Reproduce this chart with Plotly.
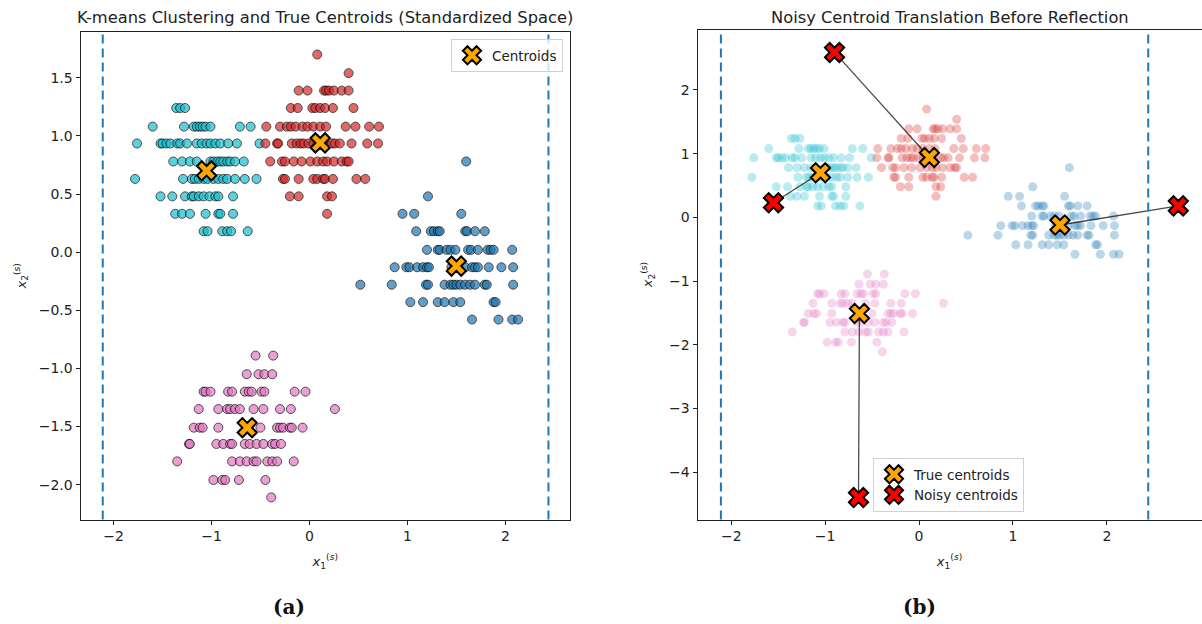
import plotly.graph_objects as go

# ---------------- data (standardized space) ----------------
cyan_rows_y = [1.24, 1.08, 0.935, 0.78, 0.63, 0.48, 0.33, 0.18]
cyan_rows_x = [
    [-1.36, -1.32, -1.27],
    [-1.60, -1.28, -1.18, -1.15, -1.12, -1.09, -1.06, -1.01, -0.71, -0.60],
    [-1.76, -1.52, -1.50, -1.46, -1.42, -1.35, -1.32, -1.25, -1.15, -1.10, -1.05, -1.01, -0.96, -0.91, -0.83, -0.74, -0.51],
    [-1.39, -1.30, -1.22, -1.15, -1.01, -0.98, -0.94, -0.91, -0.88, -0.84, -0.81, -0.76, -0.67],
    [-1.78, -1.29, -1.20, -1.17, -1.13, -1.08, -1.04, -0.98, -0.93, -0.88, -0.84, -0.76, -0.66, -0.54],
    [-1.52, -1.40, -1.27, -1.20, -1.18, -1.13, -1.08, -1.02, -0.96, -0.93, -0.78],
    [-1.37, -1.30, -1.22, -1.06, -0.93, -0.91, -0.78],
    [-1.08, -1.04, -0.89, -0.84, -0.80, -0.63],
]

red_rows_y = [1.70, 1.54, 1.39, 1.24, 1.08, 0.935, 0.78, 0.63, 0.48, 0.33]
red_rows_x = [
    [0.08],
    [0.40],
    [-0.11, -0.02, 0.15, 0.17, 0.20, 0.25, 0.33, 0.40],
    [-0.19, -0.12, 0.03, 0.06, 0.11, 0.16, 0.24, 0.45],
    [-0.44, -0.30, -0.23, -0.19, -0.14, -0.07, -0.02, 0.04, 0.11, 0.17, 0.37, 0.47, 0.61, 0.71],
    [-0.45, -0.33, -0.32, -0.18, -0.13, -0.09, -0.06, -0.01, 0.04, 0.09, 0.13, 0.16, 0.23, 0.26, 0.31, 0.43, 0.59, 0.70],
    [-0.40, -0.28, -0.25, -0.16, -0.08, 0.01, 0.08, 0.14, 0.18, 0.25, 0.33, 0.38, 0.40],
    [-0.27, -0.25, -0.11, 0.04, 0.08, 0.14, 0.16, 0.24, 0.48, 0.57],
    [-0.20, -0.11, 0.18, 0.23],
    [0.18],
]

blue_rows_y = [0.78, 0.48, 0.33, 0.18, 0.02, -0.13, -0.28, -0.43, -0.58]
blue_rows_x = [
    [1.60],
    [1.21],
    [0.95, 1.07, 1.55],
    [1.09, 1.24, 1.27, 1.31, 1.33, 1.59, 1.61, 1.69, 1.79],
    [1.20, 1.31, 1.33, 1.40, 1.44, 1.49, 1.62, 1.65, 1.72, 1.82, 1.85, 1.88, 2.07],
    [0.87, 0.99, 1.02, 1.10, 1.16, 1.20, 1.22, 1.45, 1.52, 1.59, 1.66, 1.69, 1.72, 1.83, 1.96, 2.08],
    [0.52, 0.84, 1.19, 1.21, 1.38, 1.44, 1.47, 1.50, 1.54, 1.59, 1.64, 1.69, 1.79, 1.81, 2.08],
    [1.03, 1.16, 1.31, 1.38, 1.47, 1.54, 1.88, 1.90],
    [1.66, 1.93, 2.07, 2.13],
]

pink_rows_y = [-0.89, -1.05, -1.20, -1.35, -1.51, -1.65, -1.80, -1.96, -2.11]
pink_rows_x = [
    [-0.55, -0.37],
    [-0.64, -0.52, -0.46, -0.38],
    [-1.08, -1.06, -1.01, -0.83, -0.79, -0.66, -0.62, -0.59, -0.49, -0.46, -0.15, -0.04],
    [-1.13, -0.93, -0.84, -0.81, -0.76, -0.71, -0.57, -0.47, -0.30, -0.19, 0.26],
    [-1.18, -1.12, -1.09, -0.93, -0.64, -0.50, -0.33, -0.30, -0.27, -0.20, -0.18, -0.07],
    [-1.23, -1.22, -0.95, -0.88, -0.81, -0.79, -0.66, -0.61, -0.54, -0.47, -0.38, -0.35, -0.29],
    [-1.35, -0.79, -0.71, -0.64, -0.57, -0.54, -0.43, -0.38, -0.33, -0.16],
    [-0.98, -0.89, -0.86, -0.72, -0.45],
    [-0.39],
]

true_cx = [0.11, -1.05, 1.50, -0.635]
true_cy = [0.94, 0.70, -0.12, -1.51]
noisy_cx = [-0.90, -1.55, 2.76, -0.645]
noisy_cy = [2.59, 0.23, 0.18, -4.40]

bounds_x = [-2.11, 2.44]

x_ticks = [-2, -1, 0, 1, 2]
y_ticks_left = [-2.0, -1.5, -1.0, -0.5, 0.0, 0.5, 1.0, 1.5]
y_ticks_right = [-4, -3, -2, -1, 0, 1, 2]

titles = ["K-means Clustering and True Centroids (Standardized Space)",
          "Noisy Centroid Translation Before Reflection"]
panel_labels = ["(a)", "(b)"]

# ---------------- helpers ----------------
def flatten(rows_y, rows_x):
    xs, ys = [], []
    for yv, row in zip(rows_y, rows_x):
        for xv in row:
            xs.append(xv)
            ys.append(yv)
    return xs, ys

clusters = [
    (cyan_rows_y, cyan_rows_x, "#17becf"),
    (red_rows_y, red_rows_x, "#d62728"),
    (blue_rows_y, blue_rows_x, "#1f77b4"),
    (pink_rows_y, pink_rows_x, "#e377c2"),
]

fig = go.Figure()

# Left panel scatter
for ry, rx, col in clusters:
    xs, ys = flatten(ry, rx)
    fig.add_trace(go.Scatter(
        x=xs, y=ys, mode="markers", xaxis="x", yaxis="y", showlegend=False,
        marker=dict(size=9, color=col, opacity=0.7, line=dict(color="black", width=1)),
    ))

fig.add_trace(go.Scatter(
    x=true_cx, y=true_cy, mode="markers", xaxis="x", yaxis="y",
    name="Centroids", legend="legend",
    marker=dict(symbol="x", size=17, color="orange", line=dict(color="black", width=2)),
))

# Right panel scatter
for ry, rx, col in clusters:
    xs, ys = flatten(ry, rx)
    fig.add_trace(go.Scatter(
        x=xs, y=ys, mode="markers", xaxis="x2", yaxis="y2", showlegend=False,
        marker=dict(size=9, color=col, opacity=0.3, line=dict(width=0)),
    ))

for tx, ty, nx, ny in zip(true_cx, true_cy, noisy_cx, noisy_cy):
    fig.add_trace(go.Scatter(
        x=[tx, nx], y=[ty, ny], mode="lines", xaxis="x2", yaxis="y2", showlegend=False,
        line=dict(color="rgba(0,0,0,0.7)", width=1.3),
    ))

fig.add_trace(go.Scatter(
    x=true_cx, y=true_cy, mode="markers", xaxis="x2", yaxis="y2",
    name="True centroids", legend="legend2",
    marker=dict(symbol="x", size=17, color="orange", line=dict(color="black", width=2)),
))
fig.add_trace(go.Scatter(
    x=noisy_cx, y=noisy_cy, mode="markers", xaxis="x2", yaxis="y2",
    name="Noisy centroids", legend="legend2",
    marker=dict(symbol="x", size=17, color="red", line=dict(color="black", width=2)),
))

# Dashed boundary lines
shapes = []
for xr, yr in [("x", "y domain"), ("x2", "y2 domain")]:
    for bx in bounds_x:
        shapes.append(dict(type="line", xref=xr, yref=yr, x0=bx, x1=bx, y0=0, y1=1,
                           line=dict(color="#1f77b4", width=2, dash="9px,5px"), layer="above"))

W, H = 1202, 624
def px_x(p):
    return p / W
def px_y(p):
    return 1 - p / H

font_main = "DejaVu Sans, sans-serif"
axis_common = dict(showgrid=False, zeroline=False, showline=True, linecolor="#222", linewidth=1,
                   mirror=True, ticks="outside", ticklen=4, tickcolor="#222", tickwidth=1,
                   tickfont=dict(family=font_main, size=14, color="#222"))

xlab = "<i>x</i><sub>1</sub><sup>(<i>s</i>)</sup>"
ylab = "<i>x</i><sub>2</sub><sup>(<i>s</i>)</sup>"

fig.update_layout(
    width=W, height=H,
    margin=dict(l=0, r=0, t=0, b=0),
    paper_bgcolor="white", plot_bgcolor="white",
    font=dict(family=font_main, color="#222"),
    xaxis=dict(domain=[px_x(80.5), px_x(570)], range=[-2.337, 2.66], anchor="y",
               tickvals=x_ticks, ticktext=["\u22122", "\u22121", "0", "1", "2"],
               title=dict(text=xlab, font=dict(size=13), standoff=13), **axis_common),
    yaxis=dict(domain=[px_y(519.5), px_y(32)], range=[-2.30, 1.894], anchor="x",
               tickvals=y_ticks_left,
               ticktext=[("\u2212" if v < 0 else "") + f"{abs(v):.1f}" for v in y_ticks_left],
               title=dict(text=ylab, font=dict(size=13), standoff=9), **axis_common),
    xaxis2=dict(domain=[px_x(697.5), px_x(1201.5)], range=[-2.359, 3.007], anchor="y2",
                tickvals=x_ticks, ticktext=["\u22122", "\u22121", "0", "1", "2"],
                title=dict(text=xlab, font=dict(size=13), standoff=13), **axis_common),
    yaxis2=dict(domain=[px_y(519.5), px_y(29.5)], range=[-4.745, 2.95], anchor="x2",
                tickvals=y_ticks_right,
                ticktext=[("\u2212" if v < 0 else "") + f"{abs(v)}" for v in y_ticks_right],
                title=dict(text=ylab, font=dict(size=13), standoff=13), **axis_common),
    shapes=shapes,
    legend=dict(x=px_x(563), y=px_y(39), xanchor="right", yanchor="top",
                bgcolor="rgba(255,255,255,0.8)", bordercolor="#d0d0d0", borderwidth=1,
                font=dict(family=font_main, size=13.5, color="#222"), itemsizing="trace"),
    legend2=dict(x=px_x(873), y=px_y(512), xanchor="left", yanchor="bottom",
                 bgcolor="rgba(255,255,255,0.8)", bordercolor="#d0d0d0", borderwidth=1,
                 font=dict(family=font_main, size=13.5, color="#222"), itemsizing="trace",
                 tracegroupgap=0),
    annotations=[
        dict(text=titles[0], x=px_x(325), y=px_y(17), xref="paper", yref="paper",
             showarrow=False, font=dict(family=font_main, size=16.3, color="#222"),
             xanchor="center", yanchor="middle"),
        dict(text=titles[1], x=px_x(949.5), y=px_y(17), xref="paper", yref="paper",
             showarrow=False, font=dict(family=font_main, size=16.3, color="#222"),
             xanchor="center", yanchor="middle"),
        dict(text="<b>" + panel_labels[0] + "</b>", x=px_x(289), y=px_y(607), xref="paper", yref="paper",
             showarrow=False, font=dict(family="DejaVu Serif, serif", size=20, color="#111"),
             xanchor="center", yanchor="middle"),
        dict(text="<b>" + panel_labels[1] + "</b>", x=px_x(919), y=px_y(607), xref="paper", yref="paper",
             showarrow=False, font=dict(family="DejaVu Serif, serif", size=20, color="#111"),
             xanchor="center", yanchor="middle"),
    ],
)

fig.write_html("out.html", config={"displayModeBar": False},
               post_script="document.body.style.margin='0';document.body.style.overflow='hidden';")
